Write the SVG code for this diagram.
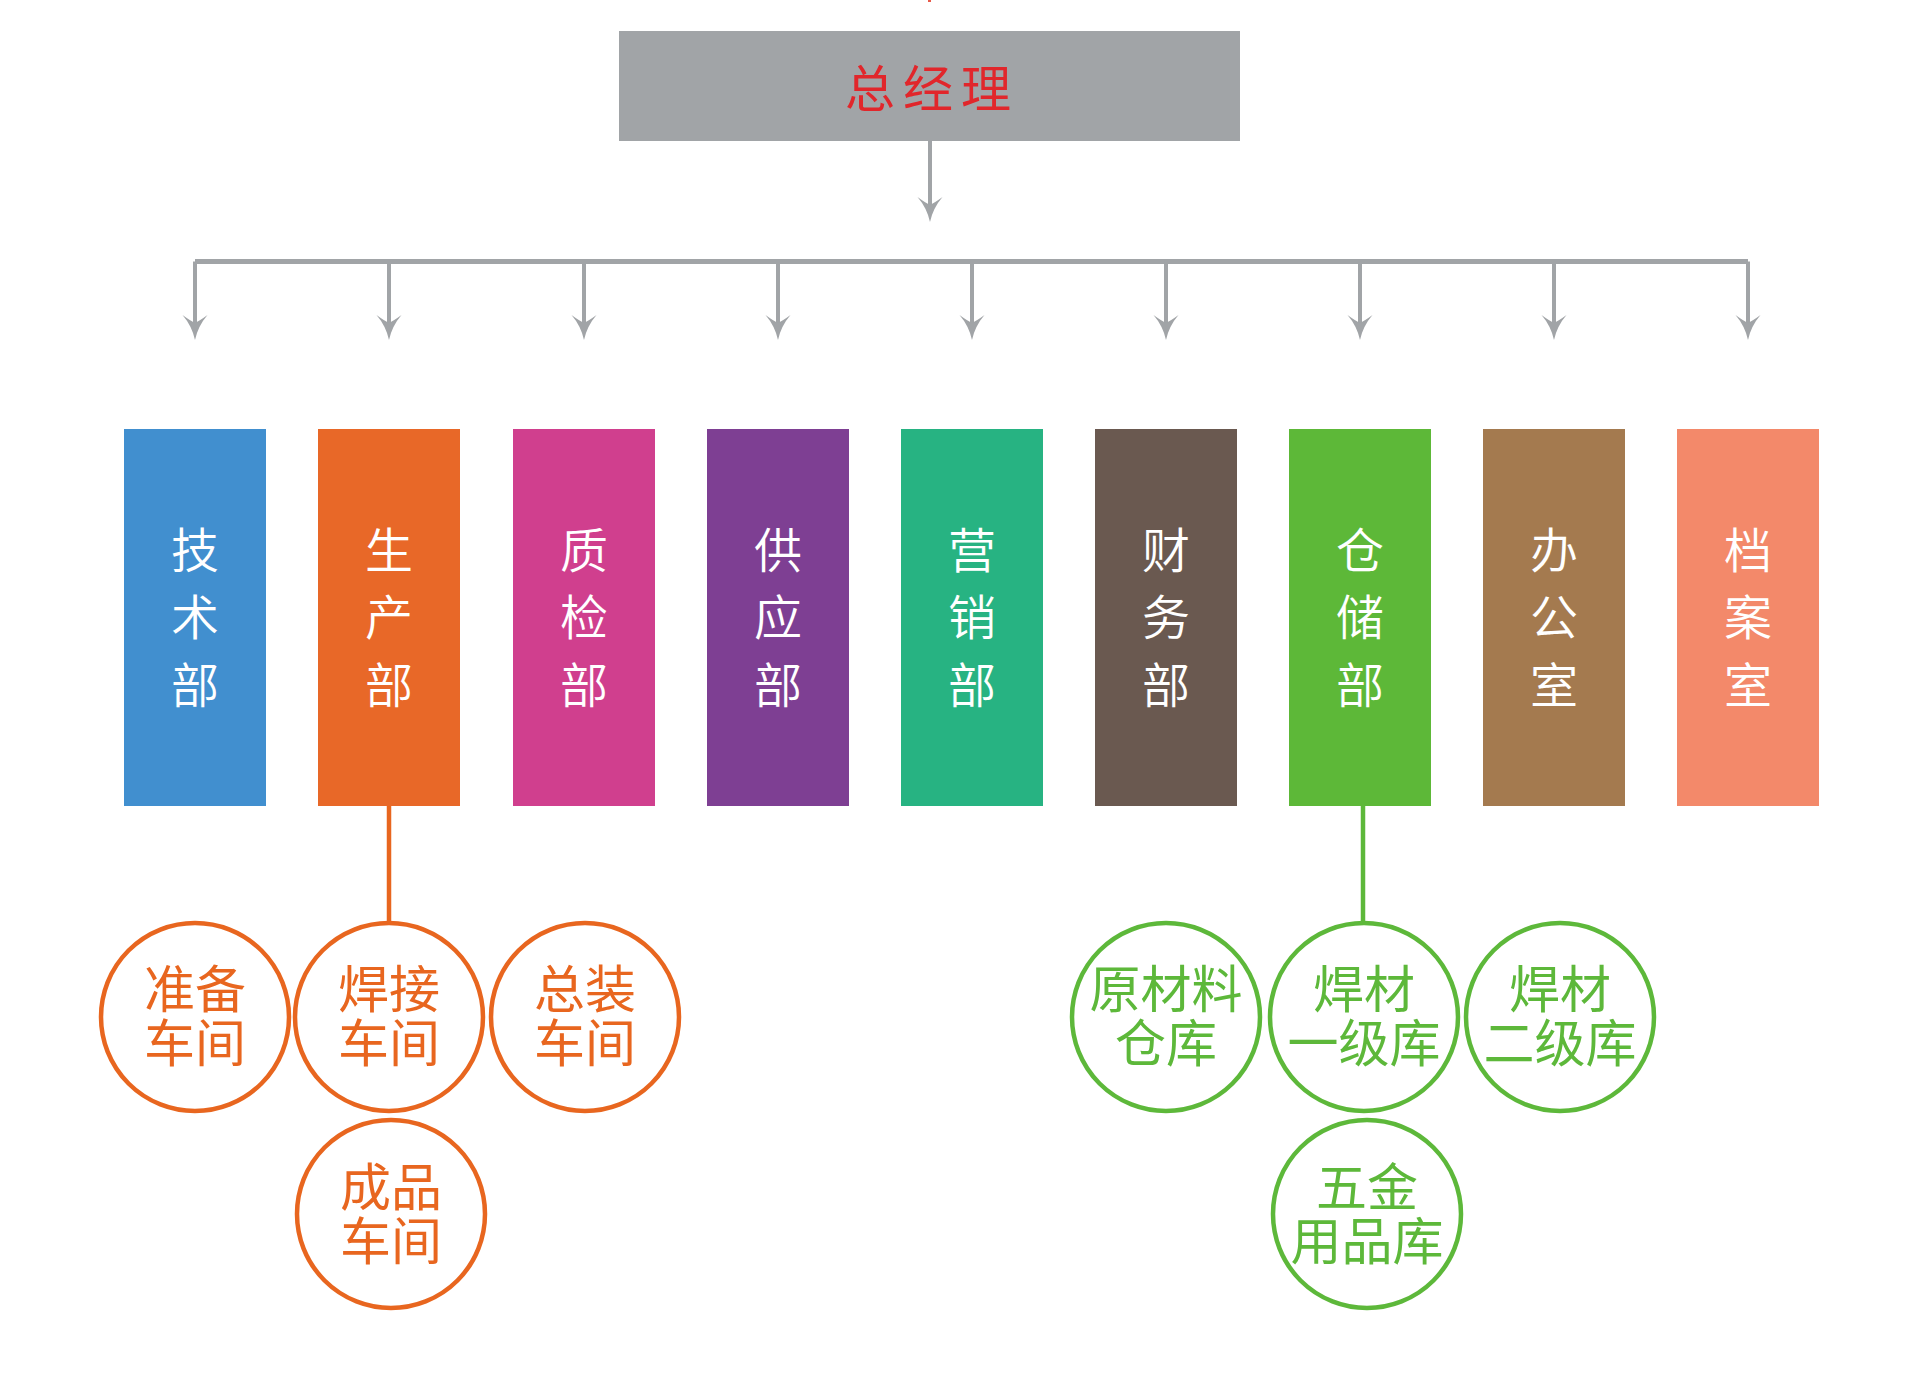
<svg xmlns="http://www.w3.org/2000/svg" width="1920" height="1400" viewBox="0 0 1920 1400">
<defs>
<style>
.bg{fill:#ffffff}
.gm{fill:#A1A4A7}
.title{font-family:"Noto Sans CJK SC","Noto Sans",sans-serif;font-size:50px;font-weight:400;fill:#E1262B;letter-spacing:8px}
.dept{font-family:"Noto Sans CJK SC","Noto Sans",sans-serif;font-size:48px;font-weight:350;fill:#ffffff}
.ctxt{font-family:"Noto Sans CJK SC","Noto Sans",sans-serif;font-size:51px;font-weight:400}
.gline{stroke:#A1A4A7;fill:none}
.oc{fill:#ffffff;stroke:#E8661F;stroke-width:4.5}
.gc{fill:#ffffff;stroke:#5DB83A;stroke-width:4.5}
.ot{fill:#E8661F}
.gt{fill:#5DB83A}
</style>
<marker id="arr" viewBox="-26 -13 27 26" refX="-8" refY="0" markerWidth="27" markerHeight="26" markerUnits="userSpaceOnUse" orient="auto">
<path d="M0,0 Q-14,-3 -25,-12.5 Q-19.5,-5 -17,0 Q-19.5,5 -25,12.5 Q-14,3 0,0 Z" fill="#A1A4A7"/>
</marker>
</defs>
<rect class="bg" x="0" y="0" width="1920" height="1400"/>
<rect x="928" y="0" width="3" height="2" fill="#E85A4A"/>

<g id="connectors">
<line class="gline" x1="930" y1="141" x2="930" y2="214" stroke-width="4" marker-end="url(#arr)"/>
<path class="gline" d="M195,261.5 H1748" stroke-width="5"/>
<g stroke-width="4">
<line class="gline" x1="195" y1="261.5" x2="195" y2="332" marker-end="url(#arr)"/>
<line class="gline" x1="389" y1="261.5" x2="389" y2="332" marker-end="url(#arr)"/>
<line class="gline" x1="584" y1="261.5" x2="584" y2="332" marker-end="url(#arr)"/>
<line class="gline" x1="778" y1="261.5" x2="778" y2="332" marker-end="url(#arr)"/>
<line class="gline" x1="972" y1="261.5" x2="972" y2="332" marker-end="url(#arr)"/>
<line class="gline" x1="1166" y1="261.5" x2="1166" y2="332" marker-end="url(#arr)"/>
<line class="gline" x1="1360" y1="261.5" x2="1360" y2="332" marker-end="url(#arr)"/>
<line class="gline" x1="1554" y1="261.5" x2="1554" y2="332" marker-end="url(#arr)"/>
<line class="gline" x1="1748" y1="261.5" x2="1748" y2="332" marker-end="url(#arr)"/>
</g>
<line x1="389" y1="806" x2="389" y2="922" stroke="#E8661F" stroke-width="4.5"/>
<line x1="1363" y1="806" x2="1363" y2="922" stroke="#5DB83A" stroke-width="4.5"/>
</g>

<g id="gm">
<rect class="gm" x="619" y="31" width="621" height="110"/>
<text class="title" x="932" y="85" text-anchor="middle" dominant-baseline="central">总经理</text>
</g>

<g id="d1"><rect x="124" y="429" width="142" height="377" fill="#418FCF"/>
<text class="dept" text-anchor="middle" dominant-baseline="central"><tspan x="195" y="547">技</tspan><tspan x="195" y="614">术</tspan><tspan x="195" y="682">部</tspan></text></g>
<g id="d2"><rect x="318" y="429" width="142" height="377" fill="#E86828"/>
<text class="dept" text-anchor="middle" dominant-baseline="central"><tspan x="389" y="547">生</tspan><tspan x="389" y="614">产</tspan><tspan x="389" y="682">部</tspan></text></g>
<g id="d3"><rect x="513" y="429" width="142" height="377" fill="#D03F8E"/>
<text class="dept" text-anchor="middle" dominant-baseline="central"><tspan x="584" y="547">质</tspan><tspan x="584" y="614">检</tspan><tspan x="584" y="682">部</tspan></text></g>
<g id="d4"><rect x="707" y="429" width="142" height="377" fill="#7E3F93"/>
<text class="dept" text-anchor="middle" dominant-baseline="central"><tspan x="778" y="547">供</tspan><tspan x="778" y="614">应</tspan><tspan x="778" y="682">部</tspan></text></g>
<g id="d5"><rect x="901" y="429" width="142" height="377" fill="#27B382"/>
<text class="dept" text-anchor="middle" dominant-baseline="central"><tspan x="972" y="547">营</tspan><tspan x="972" y="614">销</tspan><tspan x="972" y="682">部</tspan></text></g>
<g id="d6"><rect x="1095" y="429" width="142" height="377" fill="#6A5950"/>
<text class="dept" text-anchor="middle" dominant-baseline="central"><tspan x="1166" y="547">财</tspan><tspan x="1166" y="614">务</tspan><tspan x="1166" y="682">部</tspan></text></g>
<g id="d7"><rect x="1289" y="429" width="142" height="377" fill="#5DB838"/>
<text class="dept" text-anchor="middle" dominant-baseline="central"><tspan x="1360" y="547">仓</tspan><tspan x="1360" y="614">储</tspan><tspan x="1360" y="682">部</tspan></text></g>
<g id="d8"><rect x="1483" y="429" width="142" height="377" fill="#A47A4F"/>
<text class="dept" text-anchor="middle" dominant-baseline="central"><tspan x="1554" y="547">办</tspan><tspan x="1554" y="614">公</tspan><tspan x="1554" y="682">室</tspan></text></g>
<g id="d9"><rect x="1677" y="429" width="142" height="377" fill="#F3896A"/>
<text class="dept" text-anchor="middle" dominant-baseline="central"><tspan x="1748" y="547">档</tspan><tspan x="1748" y="614">案</tspan><tspan x="1748" y="682">室</tspan></text></g>

<g id="o1"><circle class="oc" cx="195" cy="1017" r="94"/>
<text class="ctxt ot" text-anchor="middle" dominant-baseline="central"><tspan x="195" y="986">准备</tspan><tspan x="195" y="1040">车间</tspan></text></g>
<g id="o2"><circle class="oc" cx="389" cy="1017" r="94"/>
<text class="ctxt ot" text-anchor="middle" dominant-baseline="central"><tspan x="389" y="986">焊接</tspan><tspan x="389" y="1040">车间</tspan></text></g>
<g id="o3"><circle class="oc" cx="585" cy="1017" r="94"/>
<text class="ctxt ot" text-anchor="middle" dominant-baseline="central"><tspan x="585" y="986">总装</tspan><tspan x="585" y="1040">车间</tspan></text></g>
<g id="o4"><circle class="oc" cx="391" cy="1214" r="94"/>
<text class="ctxt ot" text-anchor="middle" dominant-baseline="central"><tspan x="391" y="1184">成品</tspan><tspan x="391" y="1238">车间</tspan></text></g>

<g id="g1"><circle class="gc" cx="1166" cy="1017" r="94"/>
<text class="ctxt gt" text-anchor="middle" dominant-baseline="central"><tspan x="1166" y="986">原材料</tspan><tspan x="1166" y="1040">仓库</tspan></text></g>
<g id="g2"><circle class="gc" cx="1364" cy="1017" r="94"/>
<text class="ctxt gt" text-anchor="middle" dominant-baseline="central"><tspan x="1364" y="986">焊材</tspan><tspan x="1364" y="1040">一级库</tspan></text></g>
<g id="g3"><circle class="gc" cx="1560" cy="1017" r="94"/>
<text class="ctxt gt" text-anchor="middle" dominant-baseline="central"><tspan x="1560" y="986">焊材</tspan><tspan x="1560" y="1040">二级库</tspan></text></g>
<g id="g4"><circle class="gc" cx="1367" cy="1214" r="94"/>
<text class="ctxt gt" text-anchor="middle" dominant-baseline="central"><tspan x="1367" y="1184">五金</tspan><tspan x="1367" y="1238">用品库</tspan></text></g>
</svg>
